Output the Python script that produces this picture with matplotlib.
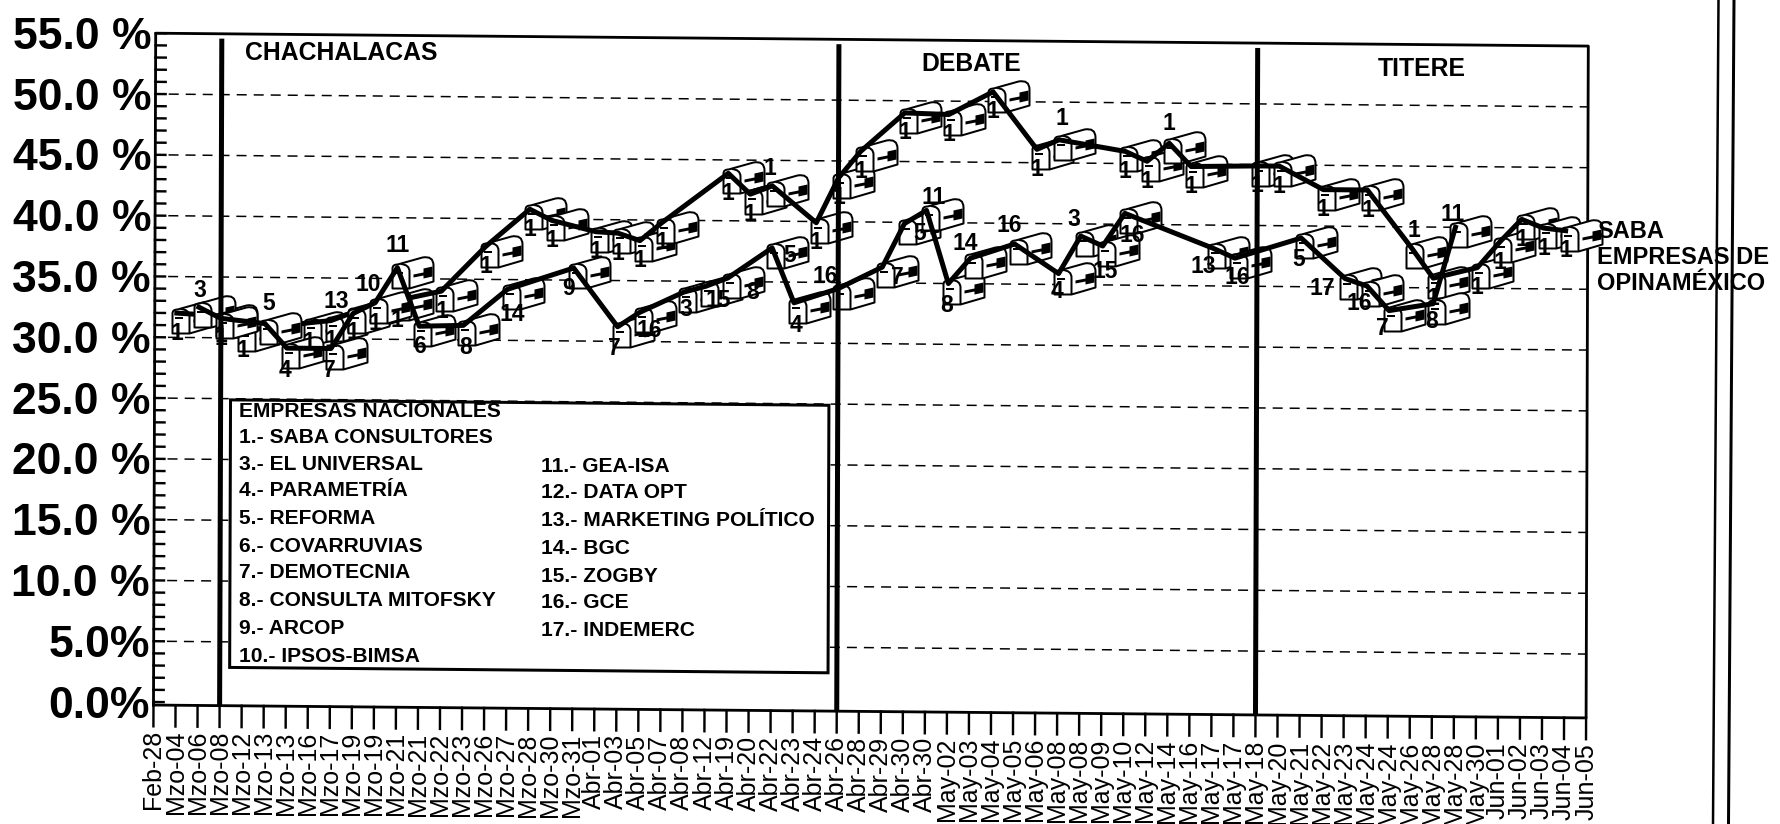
import numpy as np
import matplotlib
matplotlib.use('Agg')
import matplotlib.pyplot as plt
from matplotlib.lines import Line2D
from matplotlib.patches import Rectangle
from matplotlib.path import Path
from matplotlib.transforms import Affine2D

dates = ['Feb-28', 'Mzo-04', 'Mzo-06', 'Mzo-08', 'Mzo-12', 'Mzo-13', 'Mzo-13', 'Mzo-16', 'Mzo-17', 'Mzo-19',
         'Mzo-19', 'Mzo-21', 'Mzo-21', 'Mzo-22', 'Mzo-23', 'Mzo-26', 'Mzo-27', 'Mzo-28', 'Mzo-30', 'Mzo-31',
         'Abr-01', 'Abr-03', 'Abr-05', 'Abr-07', 'Abr-08', 'Abr-12', 'Abr-19', 'Abr-20', 'Abr-22', 'Abr-23',
         'Abr-24', 'Abr-26', 'Abr-28', 'Abr-29', 'Abr-30', 'Abr-30', 'May-02', 'May-03', 'May-04', 'May-05',
         'May-06', 'May-08', 'May-08', 'May-09', 'May-10', 'May-12', 'May-14', 'May-16', 'May-17', 'May-17',
         'May-18', 'May-20', 'May-21', 'May-22', 'May-23', 'May-24', 'May-24', 'May-26', 'May-28', 'May-28',
         'May-30', 'Jun-01', 'Jun-02', 'Jun-03', 'Jun-04', 'Jun-05']

saba_x = [1, 3, 4, 7, 8, 9, 10, 11, 13, 15, 17, 18, 20, 21, 22, 23, 26, 27, 28, 30, 31,
          32, 34, 36, 38, 40, 41, 44, 45, 46, 47, 50, 51, 53, 55, 57, 58, 60, 61, 62, 63, 64]
saba_y = [32.0, 31.8, 30.6, 31.3, 31.5, 32.2, 32.9, 33.2, 34.0, 37.7, 40.8, 39.9, 39.0, 38.9, 38.3, 39.8,
          43.9, 42.2, 42.9, 39.9, 43.6, 45.8, 49.0, 48.9, 50.8, 46.1, 46.9, 46.0, 45.2, 46.7, 44.8, 44.9,
          44.9, 43.0, 43.0, 38.3, 35.8, 36.7, 38.8, 40.7, 40.0, 39.8]

otras_x = [2, 3, 5, 6, 8, 9, 10, 11, 12, 14, 16, 19, 21, 22, 24, 25, 26, 28, 29, 31, 33, 34, 35, 36, 37,
           39, 41, 42, 43, 44, 48, 49, 52, 54, 55, 56, 58, 59]
otras_y = [32.5, 31.6, 31.2, 29.2, 29.2, 32.1, 33.0, 35.9, 31.1, 31.2, 34.2, 36.0, 31.2, 32.4, 34.1, 34.6,
           35.3, 37.8, 33.3, 34.5, 36.3, 39.9, 41.0, 35.0, 37.1, 38.3, 35.9, 39.0, 38.2, 40.9, 38.1, 37.3,
           39.0, 35.7, 35.1, 33.1, 33.7, 40.0]
otras_labels = ['3', '1', '5', '4', '7', '13', '10', '11', '6', '8', '14', '9', '7', '16', '3', '15', '8', '5', '4',
                '16', '7', '5', '11', '8', '14', '16', '4', '3', '15', '16', '13', '16', '5', '17', '16', '7', '8', '11']

y_ticks = [0, 5, 10, 15, 20, 25, 30, 35, 40, 45, 50, 55]
y_labels = ['0.0%', '5.0%', '10.0 %', '15.0 %', '20.0 %', '25.0 %', '30.0 %', '35.0 %', '40.0 %', '45.0 %',
            '50.0 %', '55.0 %']

event_x = [3, 31, 50]
event_names = ['CHACHALACAS', 'DEBATE', 'TITERE']

legend_left = ['EMPRESAS NACIONALES', '1.- SABA CONSULTORES', '3.- EL UNIVERSAL', '4.- PARAMETRÍA', '5.- REFORMA',
               '6.- COVARRUVIAS', '7.- DEMOTECNIA', '8.- CONSULTA MITOFSKY', '9.- ARCOP', '10.- IPSOS-BIMSA']
legend_right = ['11.- GEA-ISA', '12.- DATA OPT', '13.- MARKETING POLÍTICO', '14.- BGC', '15.- ZOGBY', '16.- GCE',
                '17.- INDEMERC']

end_labels = ['SABA', 'EMPRESAS DE', 'OPINAMÉXICO']

# label placement, pixels from the point
saba_offsets = {28: (-2, 17), 41: (3, 21), 46: (0, 20), 57: (3, 17)}
otras_offsets = [(1, 17), (0, -20), (4, 20), (-2, -22), (-2, -22), (-17, 12), (-7, 18), (0, 22), (0, -20), (2, -22),
                 (5, -25), (-5, -20), (-3, -22), (10, -18), (2, -17), (12, -14), (25, -15), (18, -8), (2, -23),
                 (-13, 12), (15, -10), (15, -10), (7, 13), (-2, -22), (-5, 15), (-5, 18), (-2, -18), (-7, 17),
                 (2, -25), (7, -22), (-10, -18), (2, -19), (-2, -21), (-23, -10), (-8, -17), (-7, -18), (-2, -18),
                 (-3, 13)]

W, H = 1781, 824
plt.rcParams['font.family'] = 'Liberation Sans'
plt.rcParams['lines.scale_dashes'] = False

fig = plt.figure(figsize=(W / 100, H / 100), dpi=100, facecolor='white')
ax = fig.add_axes([0, 0, 1, 1])
ax.axis('off')

# the scan is slightly tilted, so data goes through this instead of a straight axes
T = Affine2D(np.array([[22.04, 0.04, 153.5], [-0.198, 12.16, 122.0], [0.0, 0.0, 1.0]]))
n = len(dates) - 1
bottom = -0.25


def px(v):
    return v * 72 / 100


def figtext(x, y, s, **kw):
    fig.text(x / W, 1 - y / H, s, va='center', **kw)


# grid and frame
for v in y_ticks[1:-1]:
    ax.plot([0.6, n], [v, v], transform=T, color='black', lw=px(1.5), dashes=(px(10), px(7)), zorder=1)
ax.plot([0, 0, n, n, 0], [bottom, 55, 55, bottom, bottom], transform=T, color='black', lw=px(2.8), zorder=1.5)

for v in range(0, 56):
    ax.plot([0, 0.46], [v, v], transform=T, color='black', lw=px(2.4), zorder=1.5)
for i in range(len(dates)):
    ax.plot([i, i], [bottom, -2.0], transform=T, color='black', lw=px(2.4), zorder=1.5)
    ax.annotate(dates[i], xy=(i, bottom), xycoords=T, xytext=(0, -25), textcoords='offset pixels', rotation=90,
                ha='center', va='top', fontsize=18)

for v, lab in zip(y_ticks, y_labels):
    ax.annotate(lab, xy=(0, v), xycoords=T, xytext=(-4, -4), textcoords='offset pixels', ha='right', va='center',
                fontsize=32, fontweight='bold', zorder=6)

# mailbox markers, anchor is the top of the arch
MV, LN, C3, CL = Path.MOVETO, Path.LINETO, Path.CURVE3, Path.CLOSEPOLY
box_body = Path([(-5, -20), (-5, 0), (-5, 4), (0, 4), (25, 11), (36, 13), (36, 3), (36, -13), (12, -20), (-5, -20)],
                [MV, LN, C3, C3, LN, C3, C3, LN, LN, CL])
box_door = Path([(3, 4.5), (12, 4), (12, -3), (12, -20)], [MV, C3, C3, LN])
box_flag = Path([(16, -6), (26, -4), (26, 0), (35, 2), (35, -8), (26, -10), (26, -7), (16, -9), (16, -6)],
                [MV, LN, LN, LN, LN, LN, LN, LN, CL])
box_slot = Path([(-2, -3.5), (6, -3.5), (6, -6), (-2, -6), (-2, -3.5)], [MV, LN, LN, LN, CL])


def marker_size(path):
    return 2 * abs(path.vertices).max() * 72 / 100


def draw_series(xs, ys, z):
    for x, y in zip(xs, ys):
        ax.plot([x], [y], transform=T, linestyle='none', marker=box_body, ms=marker_size(box_body),
                mfc='white', mec='black', mew=px(2), zorder=z)
        ax.plot([x], [y], transform=T, linestyle='none', marker=box_door, ms=marker_size(box_door),
                mfc='none', mec='black', mew=px(2), zorder=z)
        ax.plot([x], [y], transform=T, linestyle='none', marker=box_flag, ms=marker_size(box_flag),
                mfc='black', mec='black', mew=0, zorder=z)
        ax.plot([x], [y], transform=T, linestyle='none', marker=box_slot, ms=marker_size(box_slot),
                mfc='black', mec='black', mew=0, zorder=z)
    ax.plot(xs, ys, transform=T, color='black', lw=px(5), solid_joinstyle='round', zorder=z + 0.5)


draw_series(saba_x, saba_y, 2)
draw_series(otras_x, otras_y, 3)

for x, y in zip(saba_x, saba_y):
    ax.annotate('1', xy=(x, y), xycoords=T, xytext=saba_offsets.get(x, (0, -20)), textcoords='offset pixels',
                ha='center', va='center', fontsize=16.5, fontweight='bold', zorder=5)
for x, y, lab, off in zip(otras_x, otras_y, otras_labels, otras_offsets):
    ax.annotate(lab, xy=(x, y), xycoords=T, xytext=off, textcoords='offset pixels',
                ha='center', va='center', fontsize=16.5, fontweight='bold', zorder=5)

# event lines
for x in event_x:
    ax.plot([x, x], [bottom, 54.6], transform=T, color='black', lw=px(5), solid_capstyle='butt', zorder=4.5)

figtext(341, 53, event_names[0], ha='center', fontsize=17.8, fontweight='bold', zorder=6)
figtext(971, 64, event_names[1], ha='center', fontsize=17.8, fontweight='bold', zorder=6)
figtext(1422, 69, event_names[2], ha='center', fontsize=17.8, fontweight='bold', zorder=6)

# legend box
ax.add_patch(Rectangle((3.45, 2.9), 27.15, 22.0, transform=T, facecolor='white', edgecolor='black', lw=px(3), zorder=1.8))
left_y = [411, 437, 464, 491, 518, 546, 573, 601, 628, 656]
right_y = [466, 493, 521, 548, 576, 603, 631]
for s, y in zip(legend_left, left_y):
    figtext(239, y, s, ha='left', fontsize=15.1, fontweight='bold', zorder=6)
for s, y in zip(legend_right, right_y):
    figtext(541, y, s, ha='left', fontsize=15.1, fontweight='bold', zorder=6)

for s, y in zip(end_labels, [231, 257, 283]):
    figtext(1597, y, s, ha='left', fontsize=17, fontweight='bold', zorder=6)

# double rule at the right edge of the scan
for x0, x1, lw in [(1718.5, 1713, 2.5), (1734, 1728.5, 3)]:
    fig.add_artist(Line2D([x0 / W, x1 / W], [1, 0], transform=fig.transFigure, color='black', lw=px(lw), zorder=10))

fig.savefig('out.png', dpi=100, facecolor='white')
